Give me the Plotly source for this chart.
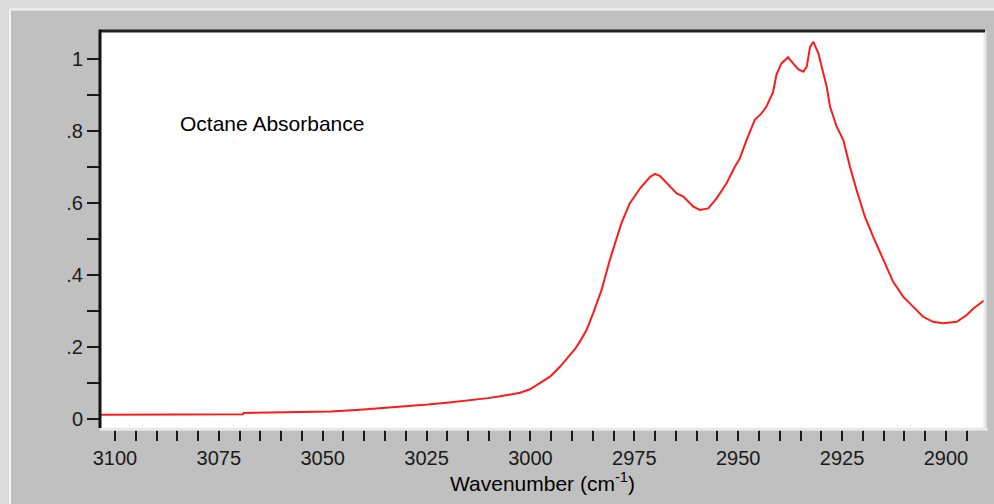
import plotly.graph_objects as go

# Wavenumber (cm^-1) and absorbance
wavenumber = [3103.6, 3069.2, 3069.0, 3048.0, 3041.0, 3031.4, 3024.7, 3019.6, 3013.8,
              3010.2, 3007.3, 3004.9, 3002.5, 3000.1, 2997.7, 2995.3, 2992.9, 2990.5,
              2989.3, 2988.1, 2986.5, 2984.9, 2982.9, 2980.9, 2979.7, 2978.1, 2976.1,
              2973.6, 2971.2, 2970.0, 2968.8, 2966.4, 2964.8, 2963.2, 2960.8, 2959.2,
              2957.2, 2955.2, 2952.8, 2950.8, 2949.6, 2948.0, 2946.0, 2944.4, 2943.2,
              2941.6, 2940.8, 2939.6, 2938.0, 2936.8, 2935.5, 2934.3, 2933.5, 2932.7,
              2931.9, 2930.7, 2929.9, 2928.7, 2927.9, 2926.3, 2924.7, 2923.1, 2921.5,
              2919.5, 2917.5, 2915.1, 2912.7, 2910.3, 2907.9, 2905.5, 2903.1, 2900.7,
              2897.4, 2895.0, 2893.4, 2891.4, 2890.6]
absorbance = [0.012, 0.013, 0.0165, 0.021, 0.026, 0.034, 0.040, 0.046, 0.053,
              0.058, 0.063, 0.069, 0.073, 0.0825, 0.100, 0.1175, 0.145, 0.178,
              0.194, 0.215, 0.247, 0.294, 0.358, 0.442, 0.488, 0.544, 0.599,
              0.641, 0.673, 0.681, 0.675, 0.645, 0.627, 0.618, 0.590, 0.581,
              0.585, 0.613, 0.655, 0.701, 0.724, 0.775, 0.831, 0.849, 0.868,
              0.909, 0.956, 0.988, 1.005, 0.988, 0.971, 0.965, 0.979, 1.034,
              1.048, 1.016, 0.979, 0.923, 0.868, 0.812, 0.775, 0.701, 0.636,
              0.562, 0.506, 0.442, 0.381, 0.340, 0.312, 0.284, 0.270, 0.266,
              0.270, 0.289, 0.307, 0.326, 0.331]

y_tickvals = [0, 0.2, 0.4, 0.6, 0.8, 1.0]
y_ticktext = ["0", ".2", ".4", ".6", ".8", "1"]
x_tickvals = [3100, 3075, 3050, 3025, 3000, 2975, 2950, 2925, 2900]
x_ticktext = ["3100", "3075", "3050", "3025", "3000", "2975", "2950", "2925", "2900"]

FONT = "Liberation Sans, Arial, sans-serif"

fig = go.Figure()
fig.add_trace(go.Scatter(x=wavenumber, y=absorbance, mode="lines",
                         line=dict(color="#ff1a1a", width=2), hoverinfo="skip"))

fig.update_layout(
    width=994, height=504,
    margin=dict(l=100, r=9, t=31, b=76),
    paper_bgcolor="#c0c0c0",
    plot_bgcolor="#ffffff",
    showlegend=False,
    font=dict(family=FONT, size=20, color="#1a1a1a"),
    xaxis=dict(
        range=[3103.6, 2890.6], autorange=False,
        tickvals=x_tickvals, ticktext=x_ticktext,
        ticks="outside", ticklen=12, tickwidth=2, tickcolor="#1a1a1a",
        minor=dict(dtick=5, tick0=3100, ticks="outside", ticklen=12, tickwidth=2, tickcolor="#1a1a1a"),
        showgrid=False, zeroline=False, showline=False,
        tickfont=dict(size=20, family=FONT, color="#1a1a1a"),
        title=dict(text="Wavenumber (cm<sup>-1</sup>)", font=dict(size=21, family=FONT, color="#000"),
                   standoff=7),
        automargin=False,
    ),
    yaxis=dict(
        range=[-0.025, 1.078], autorange=False,
        tickvals=y_tickvals, ticktext=y_ticktext,
        ticks="outside", ticklen=12, tickwidth=2, tickcolor="#1a1a1a",
        minor=dict(dtick=0.1, tick0=0, ticks="outside", ticklen=12, tickwidth=2, tickcolor="#1a1a1a"),
        showgrid=False, zeroline=False, showline=False,
        tickfont=dict(size=20, family=FONT, color="#1a1a1a"),
        automargin=False,
    ),
    annotations=[dict(text="Octane Absorbance", x=3084.8, y=0.82, xref="x", yref="y",
                      xanchor="left", yanchor="middle", showarrow=False,
                      font=dict(size=21, family=FONT, color="#000"))],
    shapes=[
        # outer light strips (left and top)
        dict(type="rect", xref="paper", yref="paper", x0=-0.12, x1=-0.1017, y0=-0.2, y1=1.08,
             fillcolor="#dcdcdc", line=dict(width=0), layer="below"),
        dict(type="rect", xref="paper", yref="paper", x0=-0.12, x1=1.02, y0=1.054, y1=1.08,
             fillcolor="#dcdcdc", line=dict(width=0), layer="below"),
        dict(type="line", xref="paper", yref="paper", x0=-0.1017, x1=-0.1017, y0=-0.2, y1=1.054,
             line=dict(color="#f4f4f4", width=2), layer="below"),
        dict(type="line", xref="paper", yref="paper", x0=-0.1017, x1=1.02, y0=1.054, y1=1.054,
             line=dict(color="#f4f4f4", width=2), layer="below"),
        # sunken plot frame
        dict(type="line", xref="paper", yref="paper", x0=1.0, x1=1.0, y0=-0.004, y1=1.0,
             line=dict(color="#e8e8e8", width=3)),
        dict(type="line", xref="paper", yref="paper", x0=0, x1=1.003, y0=-0.003, y1=-0.003,
             line=dict(color="#e8e8e8", width=3)),
        dict(type="line", xref="paper", yref="paper", x0=-0.001, x1=1.0, y0=1.0, y1=1.0,
             line=dict(color="#202020", width=3)),
        dict(type="line", xref="paper", yref="paper", x0=0, x1=0, y0=0, y1=1.003,
             line=dict(color="#111111", width=3)),
    ],
)

fig.write_html("out.html",
               config={"displayModeBar": False},
               post_script="document.body.style.margin='0';document.body.style.background='#c0c0c0';")
